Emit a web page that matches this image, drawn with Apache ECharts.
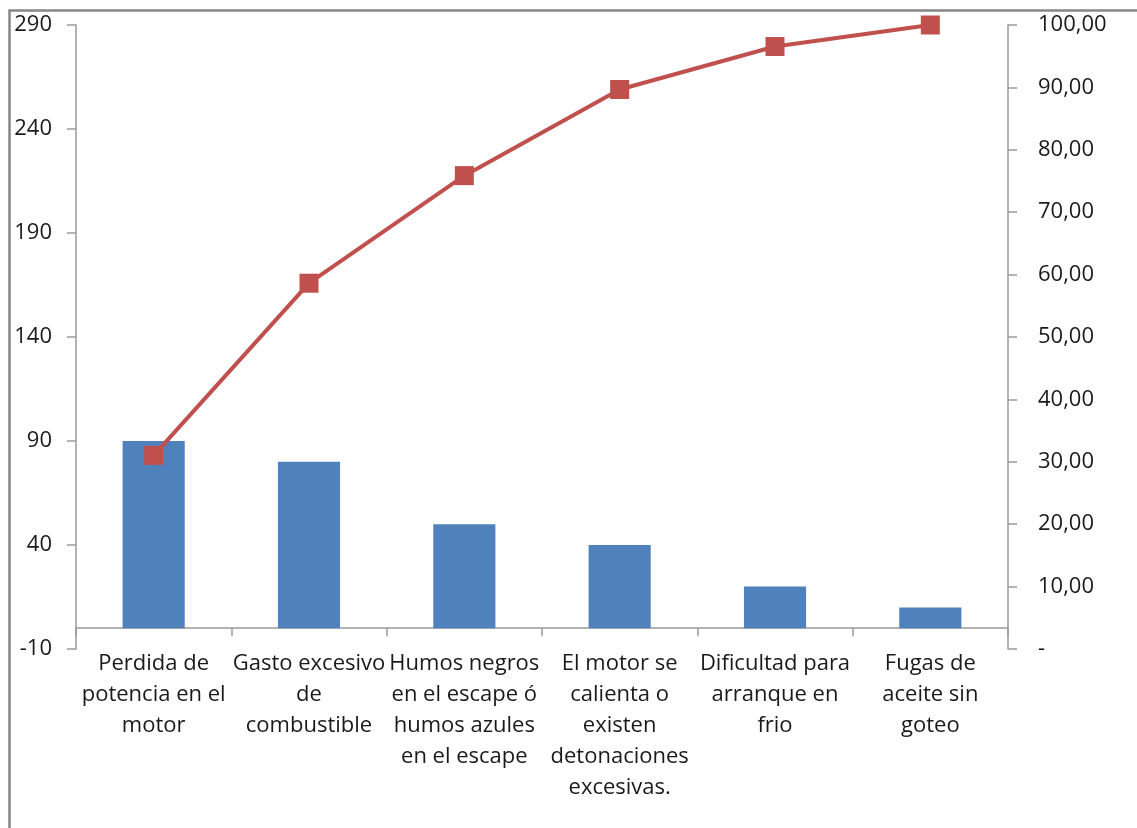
<!DOCTYPE html>
<html>
<head>
<meta charset="utf-8">
<script src="https://cdn.jsdelivr.net/npm/echarts@6/dist/echarts.min.js"></script>
<style>
  html, body { margin: 0; padding: 0; background: #fff; }
  #chart { width: 1137px; height: 828px; }
</style>
</head>
<body>
<div id="chart"></div>
<script>
// categorias (con saltos de linea como en la imagen)
var categorias = [
  'Perdida de\npotencia en el\nmotor',
  'Gasto excesivo\nde\ncombustible',
  'Humos negros\nen el escape ó\nhumos azules\nen el escape',
  'El motor se\ncalienta o\nexisten\ndetonaciones\nexcesivas.',
  'Dificultad para\narranque en\nfrio',
  'Fugas de\naceite sin\ngoteo'
];
var frecuencia = [90, 80, 50, 40, 20, 10];
var acumulado = [31.03, 58.62, 75.86, 89.66, 96.55, 100];
var ticksIzq = [-10, 40, 90, 140, 190, 240, 290];

var fuente = '"Open Sans", "Noto Sans", sans-serif';
var gris = '#9a9a9a';

var myChart = echarts.init(document.getElementById('chart'));

var option = {
  animation: false,
  backgroundColor: '#fff',
  textStyle: { fontFamily: fuente },
  graphic: [{
    type: 'rect',
    shape: { x: 9.5, y: 10.5, width: 1200, height: 900 },
    style: { fill: 'none', stroke: '#868686', lineWidth: 2.5 },
    silent: true
  }],
  grid: { left: 76, right: 129, top: 25, bottom: 179 },
  xAxis: {
    type: 'category',
    data: categorias,
    axisLine: { onZero: true, lineStyle: { color: gris, width: 1.5 } },
    axisTick: { show: true, length: 8, lineStyle: { color: gris, width: 1.5 } },
    axisLabel: {
      interval: 0,
      margin: -1,
      fontSize: 22,
      lineHeight: 31,
      color: '#1a1a1a',
      fontFamily: fuente,
      align: 'center'
    },
    splitLine: { show: false }
  },
  yAxis: [
    {
      type: 'value',
      min: -10,
      max: 290,
      position: 'left',
      axisLine: { show: true, lineStyle: { color: gris, width: 1.5 } },
      axisTick: { show: true, length: 9, customValues: ticksIzq, lineStyle: { color: gris, width: 1.5 } },
      axisLabel: { fontSize: 22, color: '#1a1a1a', margin: 24, fontFamily: fuente, customValues: ticksIzq },
      splitLine: { show: false }
    },
    {
      type: 'value',
      min: 0,
      max: 100,
      interval: 10,
      position: 'right',
      axisLine: { show: true, lineStyle: { color: gris, width: 1.5 } },
      axisTick: { show: true, length: 9, lineStyle: { color: gris, width: 1.5 } },
      axisLabel: {
        fontSize: 22,
        color: '#1a1a1a',
        margin: 30,
        fontFamily: fuente,
        formatter: function (v) {
          if (v === 0) return '-';
          return v.toFixed(2).replace('.', ',');
        }
      },
      splitLine: { show: false }
    }
  ],
  series: [
    {
      name: 'Frecuencia',
      type: 'bar',
      data: frecuencia,
      barWidth: '40%',
      itemStyle: { color: '#4F81BD' }
    },
    {
      name: '% acumulado',
      type: 'line',
      yAxisIndex: 1,
      data: acumulado,
      symbol: 'rect',
      symbolSize: 19,
      lineStyle: { color: '#C0504D', width: 4 },
      itemStyle: { color: '#C0504D' }
    }
  ]
};

myChart.setOption(option);
</script>
</body>
</html>
